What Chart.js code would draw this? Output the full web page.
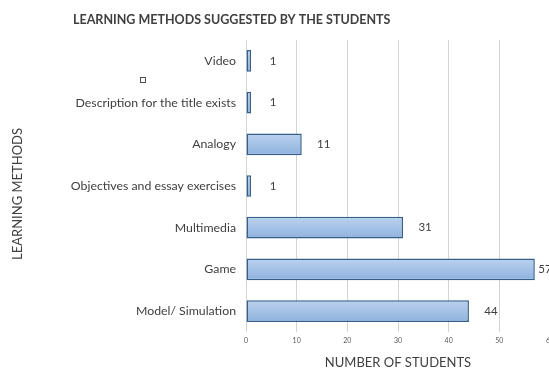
<!DOCTYPE html>
<html>
<head>
<meta charset="utf-8">
<script src="https://cdn.jsdelivr.net/npm/chart.js@4.4.0/dist/chart.umd.min.js"></script>
<style>
  html, body { margin: 0; padding: 0; background: #fff; overflow: hidden; }
  canvas { display: block; }
</style>
</head>
<body>
<canvas id="methodsChart" width="553" height="371"></canvas>
<script>
const methods = [
  "Video",
  "Description for the title exists",
  "Analogy",
  "Objectives and essay exercises",
  "Multimedia",
  "Game",
  "Model/ Simulation"
];
const students = [1, 1, 11, 1, 31, 57, 44];
const xTicks = [0, 10, 20, 30, 40, 50, 60];

const textColor = "#404040";
const fontName = "Lato, 'Open Sans', sans-serif";

// titre, titre de l'axe Y et etiquettes des barres
const decorPlugin = {
  id: "decor",
  beforeDatasetsDraw(chart) {
    // degradé vertical par barre (copie des options pour ne pas les partager)
    const ctx = chart.ctx;
    chart.getDatasetMeta(0).data.forEach(bar => {
      const top = bar.y - bar.height / 2;
      const g = ctx.createLinearGradient(0, top, 0, top + bar.height);
      g.addColorStop(0, "#bcd2ef");
      g.addColorStop(1, "#8eb1dd");
      bar.options = Object.assign({}, bar.options, { backgroundColor: g });
    });
  },
  afterDraw(chart) {
    const ctx = chart.ctx;
    ctx.save();
    ctx.fillStyle = textColor;
    ctx.font = "bold 12.5px " + fontName;
    ctx.textAlign = "left";
    ctx.textBaseline = "middle";
    ctx.fillText("LEARNING METHODS SUGGESTED BY THE STUDENTS", 73, 20);

    ctx.save();
    ctx.translate(18, 194);
    ctx.rotate(-Math.PI / 2);
    ctx.font = "13px " + fontName;
    ctx.textAlign = "center";
    ctx.fillText("LEARNING METHODS", 0, 0);
    ctx.restore();

    // petit carré orphelin
    ctx.strokeStyle = "#505050";
    ctx.lineWidth = 1;
    ctx.strokeRect(140.5, 77.5, 5, 5);

    ctx.font = "11.5px " + fontName;
    ctx.textAlign = "center";
    chart.getDatasetMeta(0).data.forEach((bar, i) => {
      const x = Math.min(bar.x + 22, 545);
      ctx.fillText(String(students[i]), x, bar.y);
    });
    ctx.restore();
  }
};

new Chart(document.getElementById("methodsChart").getContext("2d"), {
  type: "bar",
  data: {
    labels: methods,
    datasets: [{
      data: students,
      backgroundColor: "#a6c3e8",
      borderColor: "#355f88",
      borderWidth: 1.5,
      borderSkipped: false,
      barPercentage: 0.52,
      categoryPercentage: 1
    }]
  },
  options: {
    indexAxis: "y",
    responsive: false,
    animation: false,
    layout: { padding: { top: 40, right: 3, left: 0, bottom: 0 } },
    plugins: {
      legend: { display: false },
      tooltip: { enabled: false }
    },
    scales: {
      x: {
        min: 0,
        max: 60,
        afterBuildTicks: scale => { scale.ticks = xTicks.map(v => ({ value: v })); },
        afterFit: scale => {
          scale.height = 39;
          scale.paddingLeft = 0;
          scale.paddingRight = 0;
        },
        grid: { color: "#d4d4d4", lineWidth: 1, drawTicks: false },
        border: { display: false },
        ticks: {
          padding: 5,
          color: "#595959",
          font: { family: fontName, size: 7 },
          maxRotation: 0
        },
        title: {
          display: true,
          text: "NUMBER OF STUDENTS",
          color: textColor,
          font: { family: fontName, size: 13 },
          padding: { top: 0, bottom: 0 }
        }
      },
      y: {
        afterFit: scale => { scale.width = 246; },
        grid: { display: false, drawTicks: false },
        border: { display: false },
        ticks: {
          padding: 10,
          color: textColor,
          font: { family: fontName, size: 12.3 }
        }
      }
    }
  },
  plugins: [decorPlugin]
});
</script>
</body>
</html>
